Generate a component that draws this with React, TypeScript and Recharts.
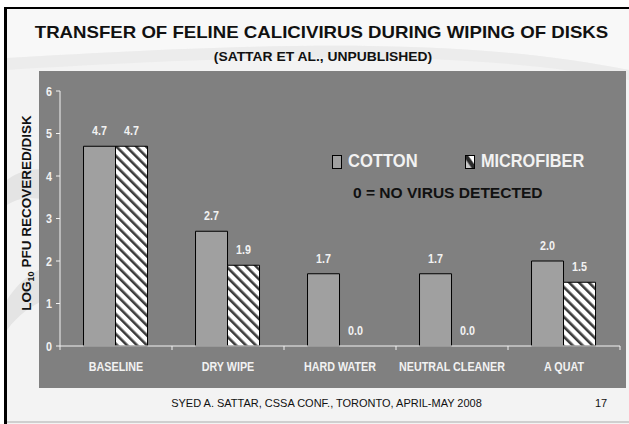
import React from 'react';
import { BarChart, Bar, XAxis, YAxis, LabelList, Legend, Rectangle } from 'recharts';

const categories = ['BASELINE', 'DRY WIPE', 'HARD WATER', 'NEUTRAL CLEANER', 'A QUAT'];
const cotton = [4.7, 2.7, 1.7, 1.7, 2.0];
const microfiber = [4.7, 1.9, 0.0, 0.0, 1.5];
const yTicks = [0, 1, 2, 3, 4, 5, 6];
const seriesNames = ['COTTON', 'MICROFIBER'];

const data = categories.map((c, i) => ({ name: c, cotton: cotton[i], microfiber: microfiber[i] }));

const ARIAL = "'Liberation Sans', Arial, sans-serif";
const LIGHT = '#f2f2f2';
const NARROW_X = 0.86;

const XTick = (props: any) => {
  const { x, y, payload, index, visibleTicksCount, width } = props;
  const half = payload && payload.offset ? payload.offset : width / visibleTicksCount / 2;
  return (
    <g>
      <line x1={x - half} x2={x - half} y1={y - 6} y2={y - 2} stroke={LIGHT} strokeWidth={1} />
      {index === visibleTicksCount - 1 && (
        <line x1={x + half} x2={x + half} y1={y - 6} y2={y - 2} stroke={LIGHT} strokeWidth={1} />
      )}
      <text transform={`translate(${x} ${y + 19}) scale(${NARROW_X} 1)`} textAnchor="middle" fill={LIGHT} fontFamily={ARIAL} fontWeight="bold" fontSize={12.5}>
        {payload.value}
      </text>
    </g>
  );
};

const YTick = (props: any) => {
  const { x, y, payload } = props;
  return (
    <text transform={`translate(${x} ${y + 4.5}) scale(${NARROW_X} 1)`} textAnchor="end" fill={LIGHT} fontFamily={ARIAL} fontWeight="bold" fontSize={12.5}>
      {payload.value}
    </text>
  );
};

const BarValueLabel = (props: any) => {
  const { x, y, width, value } = props;
  if (value === undefined || value === null) return null;
  return (
    <text transform={`translate(${Number(x) + Number(width) / 2} ${Number(y) - 11}) scale(${NARROW_X} 1)`} textAnchor="middle" fill={LIGHT} fontFamily={ARIAL} fontWeight="bold" fontSize={12.5}>
      {Number(value).toFixed(1)}
    </text>
  );
};

const BarShape = (props: any) => {
  if (Math.abs(props.height) < 0.5) return null;
  return <Rectangle {...props} />;
};

const tinyForZero = (value: any) => (Number(value) === 0 ? 0.01 : 0);

const LegendContent = () => (
  <div style={{ display: 'flex', alignItems: 'center', fontFamily: ARIAL, fontWeight: 'bold', fontSize: 18, color: LIGHT, whiteSpace: 'nowrap' }}>
    <svg width={10} height={14} style={{ marginRight: 6 }}>
      <rect x={0.5} y={0.5} width={9} height={13} fill="#a0a0a0" stroke="#000" />
    </svg>
    <span style={{ display: 'inline-block', width: 70, marginRight: 47 }}>
      <span style={{ display: 'inline-block', transform: 'scaleX(0.92)', transformOrigin: 'left center' }}>{seriesNames[0]}</span>
    </span>
    <svg width={10} height={14} style={{ marginRight: 6 }}>
      <defs>
        <linearGradient id="lg" x1="0" y1="1" x2="1" y2="0">
          <stop offset="0" stopColor="#c8c8c8" />
          <stop offset="0.3" stopColor="#c8c8c8" />
          <stop offset="0.42" stopColor="#2a2a2a" />
          <stop offset="0.6" stopColor="#2a2a2a" />
          <stop offset="0.7" stopColor="#ffffff" />
          <stop offset="1" stopColor="#ffffff" />
        </linearGradient>
      </defs>
      <rect x={0.5} y={0.5} width={9} height={13} fill="url(#lg)" stroke="#000" />
    </svg>
    <span style={{ display: 'inline-block', transform: 'scaleX(0.905)', transformOrigin: 'left center' }}>{seriesNames[1]}</span>
  </div>
);

export default function App() {
  return (
    <div style={{ position: 'fixed', left: 0, top: 0, width: 629, height: 424, background: '#fff', overflow: 'hidden' }}>
      <svg width={629} height={424} style={{ position: 'absolute', left: 0, top: 0 }}>
        <rect x={4} y={7} width={625} height={417} fill="#f3f3f3" />
        <path d="M7 9 L629 9 L629 70 C480 40 300 40 7 58 Z" fill="#f8f8f8" />
        <path d="M7 58 C300 40 480 40 629 70 L629 80 C480 52 300 52 7 70 Z" fill="#ececec" />
        <path d="M7 180 C20 170 35 168 45 170 L45 200 C30 196 18 198 7 205 Z" fill="#e4e4e4" />
        <path d="M7 300 C20 280 35 270 45 268 L45 300 C32 305 18 315 7 330 Z" fill="#e4e4e4" />
        <rect x={4} y={7} width={3} height={417} fill="#000" />
        <rect x={4} y={7} width={625} height={2} fill="#000" />
        <rect x={7} y={421} width={622} height={2} fill="#cfcfcf" />
        <text transform="translate(321.5 38) scale(1.13 1)" textAnchor="middle" fontFamily={ARIAL} fontWeight="bold" fontSize={16.5} fill="#111">
          TRANSFER OF FELINE CALICIVIRUS DURING WIPING OF DISKS
        </text>
        <text transform="translate(323 61) scale(1.11 1)" textAnchor="middle" fontFamily={ARIAL} fontWeight="bold" fontSize={12.5} fill="#111">
          (SATTAR ET AL., UNPUBLISHED)
        </text>
        <text transform="translate(326.5 407) scale(1.1 1)" textAnchor="middle" fontFamily={ARIAL} fontSize={10} fill="#111">
          SYED A. SATTAR, CSSA CONF., TORONTO, APRIL-MAY 2008
        </text>
        <text transform="translate(601 407) scale(1.1 1)" textAnchor="middle" fontFamily={ARIAL} fontSize={10} fill="#111">
          17
        </text>
        <text transform="translate(31 213) rotate(-90)" textAnchor="middle" fontFamily={ARIAL} fontWeight="bold" fontSize={13.5} fill="#111">
          LOG<tspan fontSize={9} dy={3}>10</tspan><tspan dy={-3}> PFU RECOVERED/DISK</tspan>
        </text>
      </svg>
      <div style={{ position: 'absolute', left: 39, top: 71, width: 587, height: 317, background: '#808080' }}>
        <BarChart
          width={587}
          height={317}
          data={data}
          margin={{ top: 20, right: 6, bottom: 12, left: 0 }}
          barCategoryGap="21%"
          barGap={0}
        >
          <defs>
            <pattern id="hatch" patternUnits="userSpaceOnUse" width={7} height={7} patternTransform="rotate(-45)">
              <rect x={0} y={0} width={7} height={7} fill="#ffffff" />
              <rect x={0} y={0} width={2.6} height={7} fill="#3c3c3c" />
            </pattern>
          </defs>
          <XAxis
            dataKey="name"
            height={30}
            axisLine={{ stroke: LIGHT }}
            tickLine={false}
            tickSize={4}
            tickMargin={2}
            tick={<XTick />}
            interval={0}
          />
          <YAxis
            width={21}
            domain={[0, 6]}
            ticks={yTicks}
            axisLine={{ stroke: LIGHT }}
            tickLine={{ stroke: LIGHT }}
            tickSize={4}
            tickMargin={4}
            tick={<YTick />}
            interval={0}
          />
          <Legend verticalAlign="middle" align="center" layout="horizontal" content={<LegendContent />} wrapperStyle={{ top: 80, left: 293, width: 300 }} />
          <Bar dataKey="cotton" name={seriesNames[0]} fill="#a0a0a0" stroke="#000" strokeWidth={1} isAnimationActive={false} shape={BarShape} minPointSize={tinyForZero}>
            <LabelList dataKey="cotton" content={BarValueLabel} />
          </Bar>
          <Bar dataKey="microfiber" name={seriesNames[1]} fill="url(#hatch)" stroke="#000" strokeWidth={1} isAnimationActive={false} shape={BarShape} minPointSize={tinyForZero}>
            <LabelList dataKey="microfiber" content={BarValueLabel} />
          </Bar>
        </BarChart>
      </div>
      <div style={{ position: 'absolute', left: 353, top: 185, fontFamily: ARIAL, fontWeight: 'bold', fontSize: 14, color: '#111', whiteSpace: 'nowrap', transform: 'scaleX(1.11)', transformOrigin: 'left center' }}>
        0 = NO VIRUS DETECTED
      </div>
    </div>
  );
}
